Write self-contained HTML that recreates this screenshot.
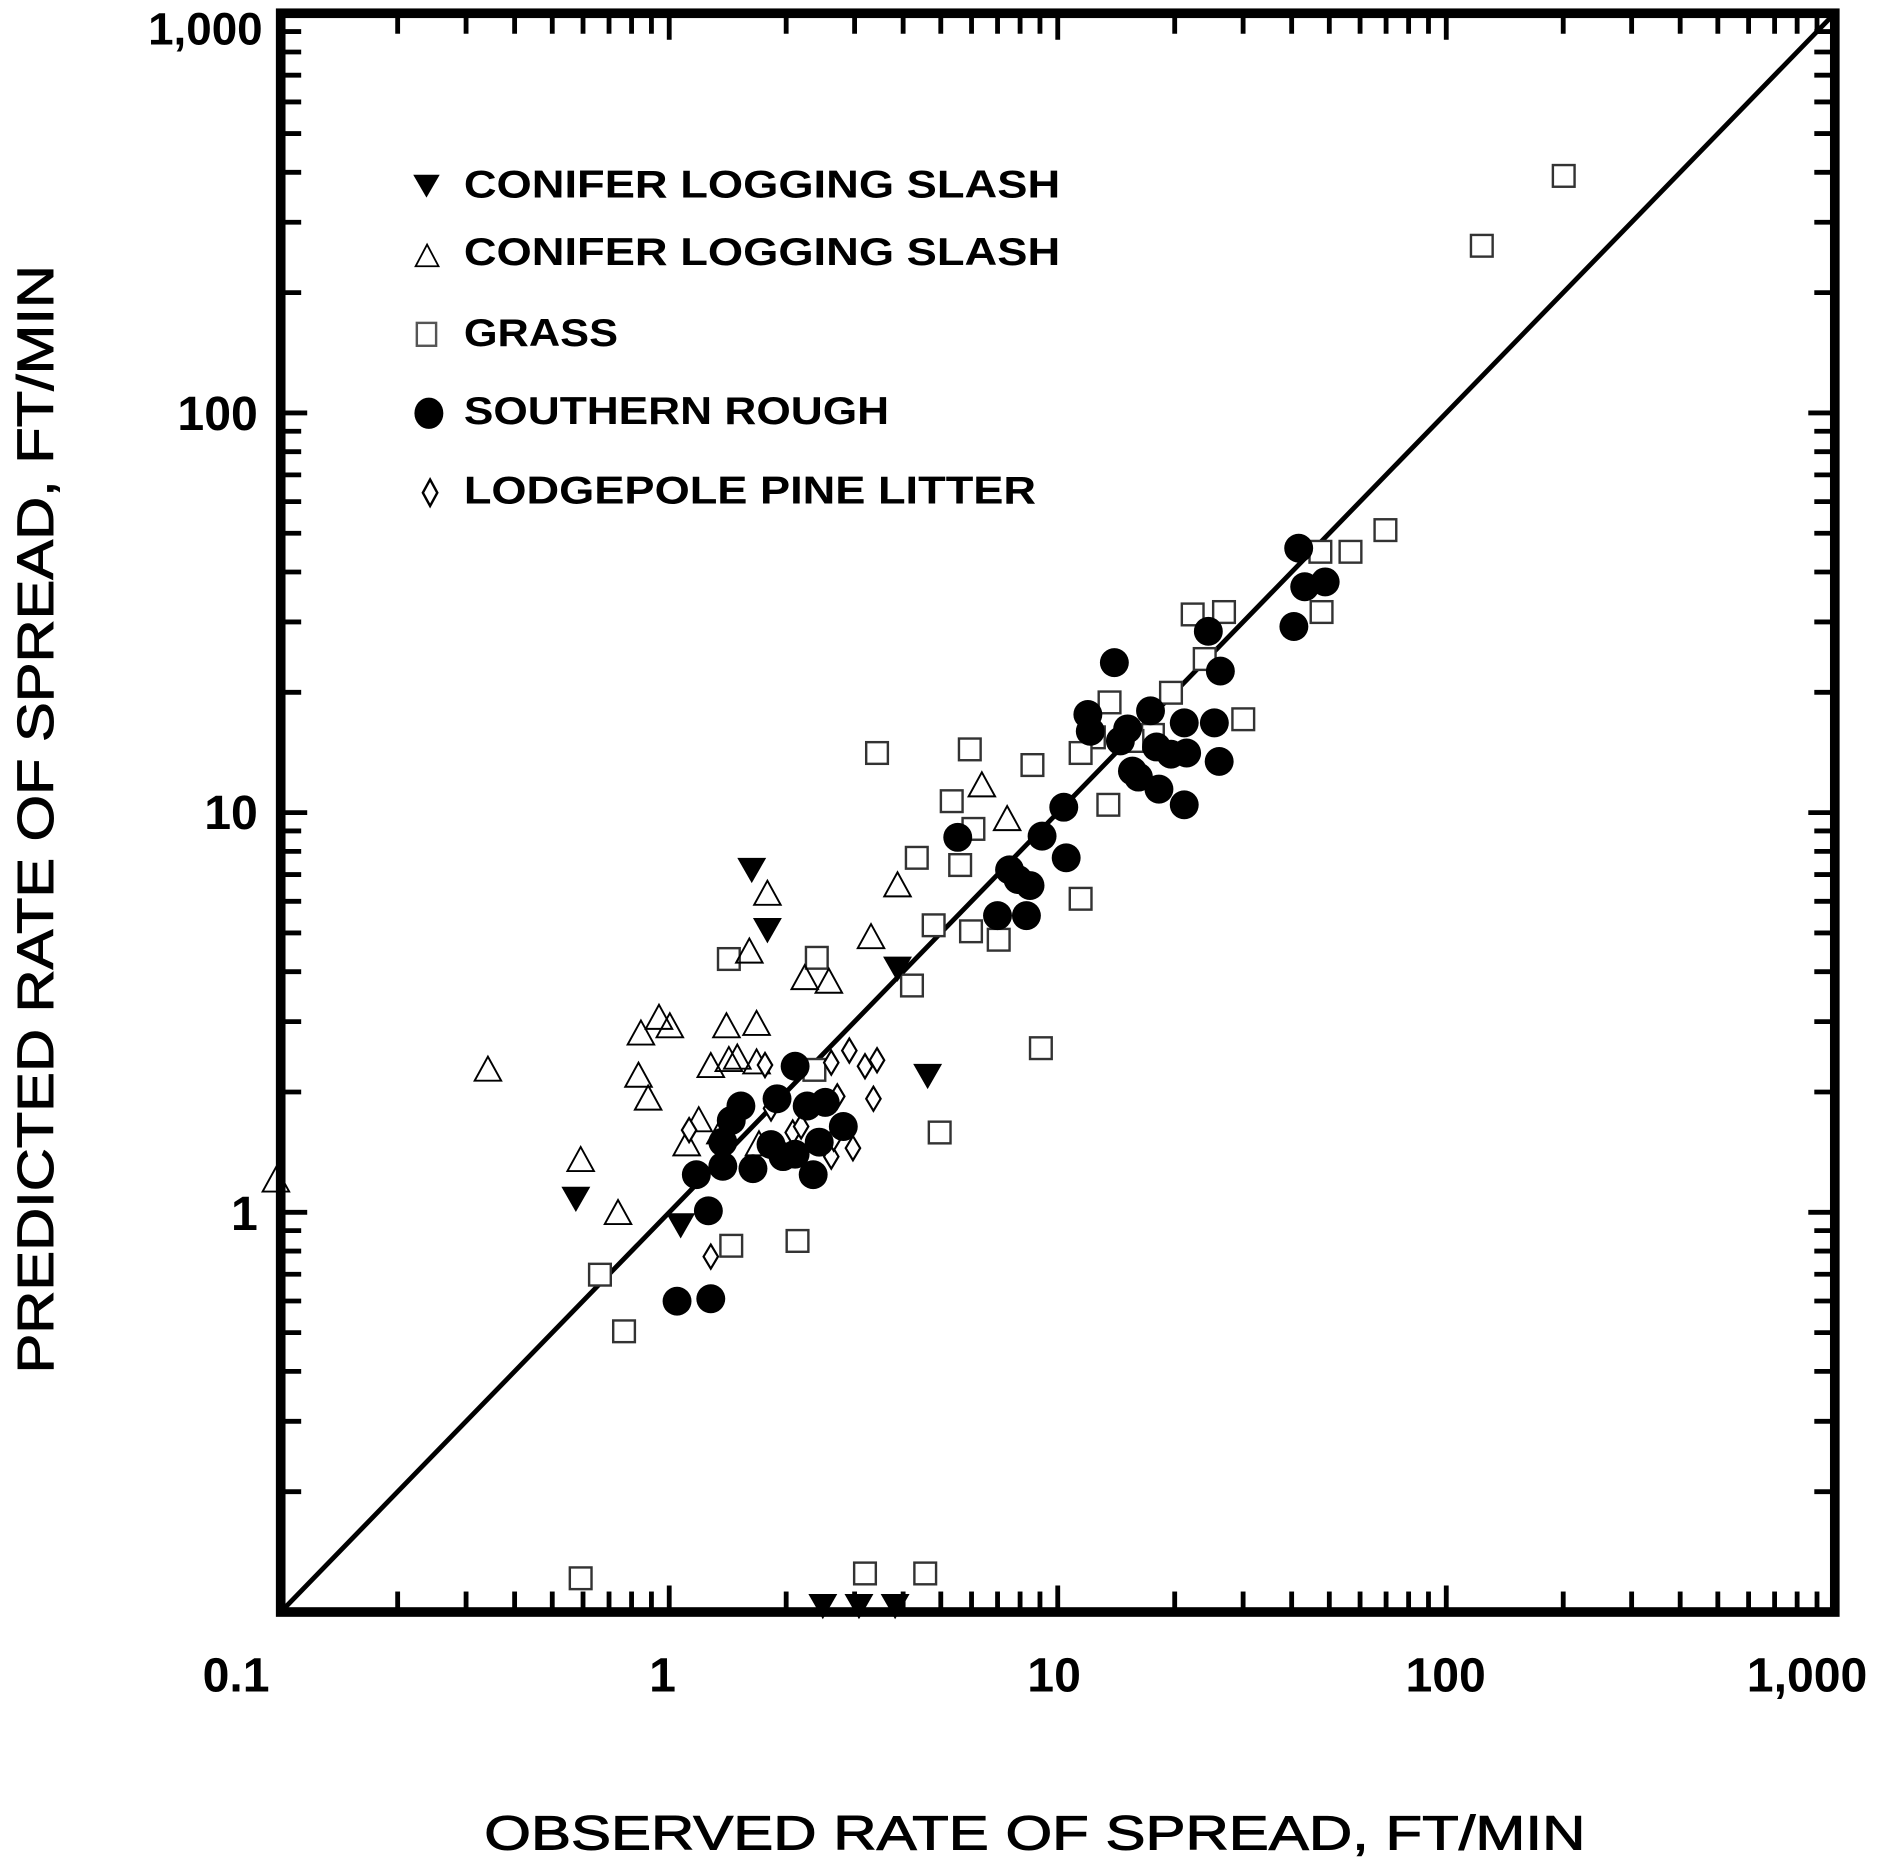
<!DOCTYPE html>
<html><head><meta charset="utf-8"><style>
html,body{margin:0;padding:0;background:#fff;}
svg{display:block}
text{font-family:"Liberation Sans",sans-serif;font-weight:bold;fill:#000}
</style></head><body>
<svg id="s" width="1889" height="1859" viewBox="0 0 1568 1543" preserveAspectRatio="none" xmlns="http://www.w3.org/2000/svg">
<rect x="0" y="0" width="1568" height="1543" fill="#fff"/>
<g id="ticks" stroke="#000" stroke-width="4"></g>
<rect x="233" y="11" width="1290" height="1327" fill="none" stroke="#000" stroke-width="8"/>
<line x1="233" y1="1338" x2="1523" y2="11" stroke="#000" stroke-width="4"/>
<g id="pts"></g>
<polygon points="343,145 365,145 354,164" fill="#000"/>
<polygon points="345,221 364,221 354.5,203" fill="none" stroke="#000" stroke-width="1.5"/>
<rect x="346" y="268" width="16" height="19" fill="none" stroke="#555" stroke-width="2"/>
<ellipse cx="356" cy="343" rx="12" ry="13" fill="#000"/>
<polygon points="357,398 363,409 357,420 351,409" fill="none" stroke="#000" stroke-width="2"/>
<text x="385" y="164" font-size="32" textLength="495" lengthAdjust="spacingAndGlyphs">CONIFER LOGGING SLASH</text>
<text x="385" y="220" font-size="32" textLength="495" lengthAdjust="spacingAndGlyphs">CONIFER LOGGING SLASH</text>
<text x="385" y="287" font-size="32" textLength="128" lengthAdjust="spacingAndGlyphs">GRASS</text>
<text x="385" y="352" font-size="32" textLength="353" lengthAdjust="spacingAndGlyphs">SOUTHERN ROUGH</text>
<text x="385" y="418" font-size="32" textLength="475" lengthAdjust="spacingAndGlyphs">LODGEPOLE PINE LITTER</text>
<text x="218" y="37" font-size="38" text-anchor="end">1,000</text>
<text x="214" y="357" font-size="40" text-anchor="end">100</text>
<text x="214" y="688" font-size="40" text-anchor="end">10</text>
<text x="214" y="1021" font-size="40" text-anchor="end">1</text>
<text x="196" y="1404" font-size="40" text-anchor="middle">0.1</text>
<text x="550" y="1404" font-size="40" text-anchor="middle">1</text>
<text x="875" y="1404" font-size="40" text-anchor="middle">10</text>
<text x="1200" y="1404" font-size="40" text-anchor="middle">100</text>
<text x="1500" y="1404" font-size="40" text-anchor="middle">1,000</text>
<text x="859" y="1535" font-size="40" style="font-weight:normal" stroke="#000" stroke-width="0.8" text-anchor="middle" textLength="914" lengthAdjust="spacingAndGlyphs">OBSERVED RATE OF SPREAD, FT/MIN</text>
<text transform="translate(44,680) rotate(-90)" font-size="42" style="font-weight:normal" stroke="#000" stroke-width="0.8" text-anchor="middle" textLength="920" lengthAdjust="spacingAndGlyphs">PREDICTED RATE OF SPREAD, FT/MIN</text>
</svg>
<script>
var NS="http://www.w3.org/2000/svg";
function el(t,a,p){var e=document.createElementNS(NS,t);for(var k in a)e.setAttribute(k,a[k]);p.appendChild(e);return e;}
var T=document.getElementById('ticks'),P=document.getElementById('pts');
var X0=233,X1=1523,Y0=1338,Y1=11,dx=(X1-X0)/4,dy=(Y0-Y1)/4;
for(var d=0;d<4;d++)for(var m=2;m<=10;m++){
 var f=Math.log10(m), L=(m==10?22:17);
 var x=X0+dx*(d+f), y=Y0-dy*(d+f);
 if(d==3&&m==10)continue;
 el('line',{x1:x,y1:Y0,x2:x,y2:Y0-L},T);
 el('line',{x1:x,y1:Y1,x2:x,y2:Y1+L},T);
 el('line',{x1:X0,y1:y,x2:X0+L,y2:y},T);
 el('line',{x1:X1,y1:y,x2:X1-L,y2:y},T);
}
var dt=[[624,722],[637,772],[478,995],[565,1017],[745,804],[770,893],[683,1333],[713,1333],[743,1333]];
var ut=[[405,888],[229,980],[482,963],[513,1007],[532,858],[547,845],[556,852],[530,893],[538,912],[590,885],[603,852],[612,878],[628,850],[628,882],[622,790],[637,742],[668,812],[688,815],[723,778],[745,735],[815,652],[836,680],[570,950],[598,940],[630,950],[605,880],[580,930]];
var sq=[[1298,146],[1230,204],[1150,440],[1121,458],[1096,458],[1097,508],[990,510],[1016,508],[1000,547],[1032,597],[972,575],[957,610],[921,583],[908,612],[897,625],[920,668],[857,635],[805,622],[728,625],[790,665],[808,688],[797,718],[761,712],[775,768],[806,773],[829,780],[757,818],[678,795],[605,796],[897,746],[864,870],[780,940],[498,1058],[518,1105],[607,1034],[662,1030],[482,1310],[718,1306],[768,1306],[676,888],[940,615]];
var ci=[[1078,455],[1083,487],[1100,483],[1074,520],[1003,524],[1013,557],[925,550],[903,593],[936,605],[955,590],[960,620],[945,645],[962,655],[940,640],[972,626],[983,600],[985,625],[1008,600],[1012,632],[983,668],[930,615],[905,607],[883,670],[885,712],[865,694],[838,722],[845,730],[855,735],[828,760],[852,760],[795,695],[660,885],[615,918],[645,912],[670,918],[685,915],[600,948],[640,950],[660,958],[680,948],[578,975],[600,968],[625,970],[650,960],[675,975],[588,1005],[562,1080],[590,1078],[607,930],[700,935]];
var di=[[572,938],[590,1043],[635,884],[658,940],[690,882],[695,910],[705,872],[708,953],[718,885],[725,912],[728,880],[690,960],[692,945],[640,920],[665,935]];
sq.forEach(function(p){el('rect',{x:p[0]-9,y:p[1]-9,width:18,height:18,fill:'#fff',stroke:'#333','stroke-width':2},P);});
ut.forEach(function(p){el('polygon',{points:(p[0]-11)+','+(p[1]+9)+' '+(p[0]+11)+','+(p[1]+9)+' '+p[0]+','+(p[1]-11),fill:'none',stroke:'#000','stroke-width':1.6},P);});
di.forEach(function(p){el('polygon',{points:p[0]+','+(p[1]-10)+' '+(p[0]+6)+','+p[1]+' '+p[0]+','+(p[1]+10)+' '+(p[0]-6)+','+p[1],fill:'#fff',stroke:'#000','stroke-width':1.8},P);});
ci.forEach(function(p){el('circle',{cx:p[0],cy:p[1],r:12,fill:'#000'},P);});
dt.forEach(function(p){el('polygon',{points:(p[0]-12)+','+(p[1]-10)+' '+(p[0]+12)+','+(p[1]-10)+' '+p[0]+','+(p[1]+11),fill:'#000'},P);});
</script>
</body></html>
